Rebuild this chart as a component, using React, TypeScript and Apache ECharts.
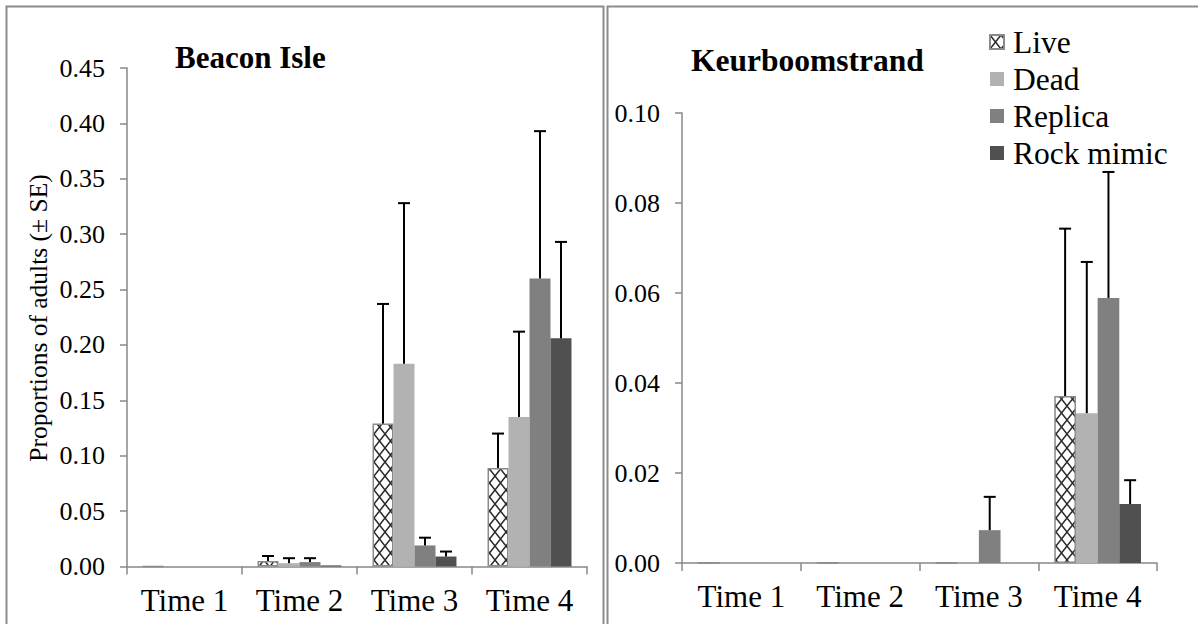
import React, { useEffect, useRef } from "react";
import * as echarts from "echarts";

// Categories and series names
const times = ["Time 1", "Time 2", "Time 3", "Time 4"];
const treatments = ["Live", "Dead", "Replica", "Rock mimic"];

// Beacon Isle: mean proportions and standard errors
const beaconLive = [0, 0.005, 0.129, 0.089];
const beaconLiveSE = [0, 0.0045, 0.108, 0.031];
const beaconDead = [0, 0.003, 0.183, 0.135];
const beaconDeadSE = [0, 0.0045, 0.145, 0.077];
const beaconReplica = [0, 0.004, 0.019, 0.26];
const beaconReplicaSE = [0, 0.0035, 0.007, 0.133];
const beaconRock = [0, 0.001, 0.009, 0.206];
const beaconRockSE = [0, 0, 0.0045, 0.087];

// Keurboomstrand: mean proportions and standard errors
const keurLive = [0, 0, 0, 0.0371];
const keurLiveSE = [0, 0, 0, 0.0372];
const keurDead = [0, 0, 0, 0.0333];
const keurDeadSE = [0, 0, 0, 0.0336];
const keurReplica = [0, 0, 0.0073, 0.0589];
const keurReplicaSE = [0, 0, 0.0074, 0.028];
const keurRock = [0, 0, 0, 0.0131];
const keurRockSE = [0, 0, 0, 0.0053];

// Axis tick settings
const beaconMax = 0.45;
const beaconStep = 0.05;
const keurMax = 0.1;
const keurStep = 0.02;

const FONT = "Liberation Serif";
const AXIS_GRAY = "#888888";
const GAP = 0.27;

// Cross-hatch tile for the "Live" bars
const hatchSvg =
  '<svg xmlns="http://www.w3.org/2000/svg" width="11" height="14">' +
  '<rect width="11" height="14" fill="#ffffff"/>' +
  '<path d="M-1 -1.27 L12 15.27 M12 -1.27 L-1 15.27" stroke="#2a2a2a" stroke-width="1.5" fill="none"/>' +
  "</svg>";
const hatchUrl = "data:image/svg+xml;charset=utf-8," + encodeURIComponent(hatchSvg);

const barStyles = [
  { color: { image: hatchUrl, repeat: "repeat" }, borderColor: "#8a8a8a", borderWidth: 1.5 },
  { color: "#b2b2b2" },
  { color: "#808080" },
  { color: "#505050" },
];

function errorBarRender(params: any, api: any) {
  const cat = api.value(0);
  const val = api.value(1);
  const hi = api.value(2);
  const s = api.value(3);
  if (hi <= val) return null;
  const base = api.coord([cat, val]);
  const top = api.coord([cat, hi]);
  const band = api.size([1, 0])[0];
  const bw = (band * (1 - GAP)) / 4;
  const x = base[0] + (s - 1.5) * bw;
  const half = 6;
  return {
    type: "group",
    children: [
      {
        type: "line",
        shape: { x1: x, y1: base[1], x2: x, y2: top[1] },
        style: { stroke: "#000", lineWidth: 2 },
      },
      {
        type: "line",
        shape: { x1: x - half, y1: top[1], x2: x + half, y2: top[1] },
        style: { stroke: "#000", lineWidth: 2 },
      },
    ],
  };
}

function panelSeries(idx: number, means: number[][], ses: number[][]) {
  const out: any[] = [];
  means.forEach((m, s) => {
    out.push({
      type: "bar",
      name: treatments[s],
      xAxisIndex: idx,
      yAxisIndex: idx,
      data: m,
      barGap: "0%",
      barCategoryGap: GAP * 100 + "%",
      itemStyle: barStyles[s],
      z: 2,
    });
  });
  const errData: any[] = [];
  means.forEach((m, s) => {
    m.forEach((v, c) => {
      errData.push({ value: [c, v, v + ses[s][c], s] });
    });
  });
  out.push({
    type: "custom",
    name: "se" + idx,
    xAxisIndex: idx,
    yAxisIndex: idx,
    renderItem: errorBarRender,
    encode: { x: 0, y: [1, 2] },
    data: errData,
    z: 3,
  });
  return out;
}

function xAxisOf(gridIndex: number) {
  return {
    type: "category",
    gridIndex,
    data: times,
    boundaryGap: true,
    axisLine: { lineStyle: { color: AXIS_GRAY, width: 1.5 } },
    axisTick: { show: true, length: 8, lineStyle: { color: AXIS_GRAY, width: 1.5 } },
    axisLabel: { color: "#000", fontFamily: FONT, fontSize: 31, margin: 18 },
  };
}

function yAxisOf(gridIndex: number, max: number, step: number) {
  return {
    type: "value",
    gridIndex,
    min: 0,
    max,
    interval: step,
    splitLine: { show: false },
    axisLine: { show: true, lineStyle: { color: AXIS_GRAY, width: 1.5 } },
    axisTick: { show: true, length: 7, lineStyle: { color: AXIS_GRAY, width: 1.5 } },
    axisLabel: {
      color: "#000",
      fontFamily: FONT,
      fontSize: 26,
      margin: 22,
      formatter: (v: number) => v.toFixed(2),
    },
  };
}

export default function App() {
  const ref = useRef<HTMLDivElement>(null);

  useEffect(() => {
    if (!ref.current) return;
    const chart = echarts.init(ref.current, null, { renderer: "svg" });
    chart.setOption({
      animation: false,
      backgroundColor: "#ffffff",
      textStyle: { fontFamily: FONT },
      grid: [
        { left: 127, top: 68, width: 460, height: 498.5 },
        { left: 682, top: 113, width: 475, height: 450 },
      ],
      xAxis: [xAxisOf(0), xAxisOf(1)],
      yAxis: [yAxisOf(0, beaconMax, beaconStep), yAxisOf(1, keurMax, keurStep)],
      legend: {
        data: treatments,
        orient: "vertical",
        left: 984,
        top: 21,
        itemWidth: 14,
        itemHeight: 14,
        itemGap: 5,
        icon: "rect",
        selectedMode: false,
        textStyle: {
          color: "#000",
          fontFamily: FONT,
          fontSize: 31.5,
          lineHeight: 30,
          padding: [0, 0, 0, 4],
        },
      },
      graphic: [
        {
          type: "rect",
          shape: { x: 6.5, y: 6.5, width: 597, height: 700 },
          style: { fill: "none", stroke: "#8c8c8c", lineWidth: 2 },
          silent: true,
        },
        {
          type: "rect",
          shape: { x: 607.5, y: 6.5, width: 700, height: 700 },
          style: { fill: "none", stroke: "#8c8c8c", lineWidth: 2 },
          silent: true,
        },
        {
          type: "text",
          x: 175,
          y: 57,
          style: {
            text: "Beacon Isle",
            font: "bold 31px " + FONT,
            fill: "#000",
            align: "left",
            verticalAlign: "middle",
          },
        },
        {
          type: "text",
          x: 691,
          y: 60,
          style: {
            text: "Keurboomstrand",
            font: "bold 31.5px " + FONT,
            fill: "#000",
            align: "left",
            verticalAlign: "middle",
          },
        },
        {
          type: "text",
          x: 38,
          y: 318,
          rotation: Math.PI / 2,
          style: {
            text: "Proportions of adults (\u00b1 SE)",
            font: "25.5px " + FONT,
            fill: "#000",
            align: "center",
            verticalAlign: "middle",
          },
        },
      ],
      series: [
        ...panelSeries(
          0,
          [beaconLive, beaconDead, beaconReplica, beaconRock],
          [beaconLiveSE, beaconDeadSE, beaconReplicaSE, beaconRockSE]
        ),
        ...panelSeries(
          1,
          [keurLive, keurDead, keurReplica, keurRock],
          [keurLiveSE, keurDeadSE, keurReplicaSE, keurRockSE]
        ),
      ],
    });
    return () => chart.dispose();
  }, []);

  return (
    <div
      ref={ref}
      style={{ position: "fixed", left: 0, top: 0, width: 1198, height: 624, background: "#fff" }}
    />
  );
}
